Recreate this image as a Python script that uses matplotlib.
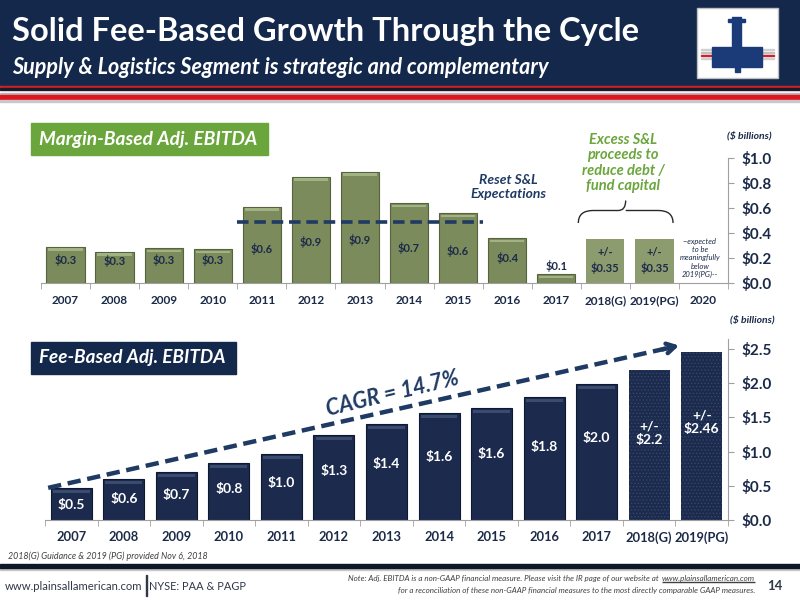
import numpy as np
import matplotlib.pyplot as plt
from matplotlib.patches import Rectangle, PathPatch
from matplotlib.path import Path

plt.rcParams['font.family'] = ['Lato', 'DejaVu Sans']
plt.rcParams['hatch.linewidth'] = 0.6

# margin-based adj. ebitda ($ billions)
margin_years = ['2007', '2008', '2009', '2010', '2011', '2012', '2013', '2014',
                '2015', '2016', '2017', '2018(G)', '2019(PG)', '2020']
margin_vals = [0.29, 0.25, 0.28, 0.27, 0.61, 0.85, 0.89, 0.64, 0.56, 0.36, 0.07, 0.35, 0.35, 0.0]
margin_labels = ['$0.3', '$0.3', '$0.3', '$0.3', '$0.6', '$0.9', '$0.9', '$0.7',
                 '$0.6', '$0.4', '$0.1', '+/-\n$0.35', '+/-\n$0.35', '']

# fee-based adj. ebitda ($ billions)
fee_years = ['2007', '2008', '2009', '2010', '2011', '2012', '2013', '2014',
             '2015', '2016', '2017', '2018(G)', '2019(PG)']
fee_vals = [0.47, 0.60, 0.70, 0.83, 0.96, 1.24, 1.40, 1.56, 1.64, 1.80, 1.99, 2.19, 2.46]
fee_labels = ['$0.5', '$0.6', '$0.7', '$0.8', '$1.0', '$1.3', '$1.4', '$1.6',
              '$1.6', '$1.8', '$2.0', '+/-\n$2.2', '+/-\n$2.46']

margin_ticks = [0.0, 0.2, 0.4, 0.6, 0.8, 1.0]
fee_ticks = [0.0, 0.5, 1.0, 1.5, 2.0, 2.5]

NAVY = '#13284a'
BAR_NAVY = '#1c2b4d'
GREEN_BOX = '#6aa63c'
OLIVE = '#7b8b5c'
TXT = '#1b2a48'

W, H = 800, 600


def px(x, y):
    return x / W, 1 - y / H


fig = plt.figure(figsize=(8, 6), dpi=100)
fig.patch.set_facecolor('white')

# header band and stripes
fig.patches.append(Rectangle((0, 1 - 85 / H), 1, 85 / H, transform=fig.transFigure,
                             color=NAVY, zorder=0))
for y0, h, c in [(86, 1.2, '#d0202a'), (87.5, 2.5, '#1a1a2a'), (92.5, 2, '#b8b8b8'),
                 (95.5, 3.5, '#e0161e'), (99.5, 2, '#c8c8c8')]:
    fig.patches.append(Rectangle((0, 1 - (y0 + h) / H), 1, h / H,
                                 transform=fig.transFigure, color=c, zorder=0))

# logo box
fig.patches.append(Rectangle(px(697, 78), 81 / W, 70 / H, transform=fig.transFigure,
                             facecolor='white', edgecolor='#c0c0c0', lw=1, zorder=1))
for yy, c in [(50, '#d0d0d0'), (53, '#c0c0c0'), (56, '#d0202a'), (59, '#d0d0d0')]:
    fig.patches.append(Rectangle(px(701, yy), 73 / W, 1.5 / H, transform=fig.transFigure,
                                 color=c, zorder=2))
fig.patches.append(Rectangle(px(712, 67), 50 / W, 20 / H, transform=fig.transFigure,
                             color='#1b3a78', zorder=3))
fig.patches.append(Rectangle(px(732, 47), 9 / W, 30 / H, transform=fig.transFigure,
                             color='#1b3a78', zorder=3))
fig.patches.append(Rectangle(px(728, 22), 17 / W, 3 / H, transform=fig.transFigure,
                             color='#1b3a78', zorder=3))
fig.patches.append(Rectangle(px(735, 72), 5 / W, 5 / H, transform=fig.transFigure,
                             color='#1b3a78', zorder=3))

fig.text(*px(12, 31), 'Solid Fee-Based Growth Through the Cycle', color='white',
         fontsize=23.5, fontweight='bold', va='center', ha='left')
fig.text(*px(12, 67), 'Supply & Logistics Segment is strategic and complementary',
         color='white', fontsize=15.5, fontweight='bold', style='italic',
         va='center', ha='left')

# ---------- top chart ----------
ax1 = fig.add_axes([41 / W, 1 - 283 / H, 687 / W, 125 / H])
x1 = np.arange(len(margin_years))
for i, (v, lab) in enumerate(zip(margin_vals, margin_labels)):
    if v <= 0:
        continue
    if i >= 11:
        ax1.bar(i, v, width=0.78, color='#8d9c6e', edgecolor='none', zorder=2)
    else:
        ax1.bar(i, v, width=0.78, color=OLIVE, edgecolor='#55643c', lw=0.8, zorder=2)
        ax1.bar(i, 0.018, bottom=v - 0.03, width=0.7, color='#a3b282',
                edgecolor='none', zorder=3)
    if i == 10:
        ax1.text(i, v + 0.07, lab, ha='center', va='center', fontsize=8,
                 fontweight='bold', color=TXT, zorder=4)
    elif i >= 11:
        ax1.text(i, 0.18, lab, ha='center', va='center', fontsize=8,
                 fontweight='bold', color=TXT, zorder=4, linespacing=1.3)
    else:
        ax1.text(i, 0.11 + 0.26 * v, lab, ha='center', va='center', fontsize=8,
                 fontweight='bold', color=TXT, zorder=4)

ax1.plot([3.5, 8.5], [0.49, 0.49], color='#1f3a63', lw=2.6, dashes=(3.2, 1.6), zorder=5)

# brace over guidance years
bx0, bx1, by0, by1 = 10.45, 12.38, 0.48, 0.66
bm = (bx0 + bx1) / 2
verts = [(bx0, by0), (bx0, by0 + 0.1), (bx0 + 0.3, by0 + 0.1), (bm - 0.15, by0 + 0.1),
         (bm, by0 + 0.1), (bm, by1), (bm, by0 + 0.1), (bm + 0.15, by0 + 0.1),
         (bx1 - 0.3, by0 + 0.1), (bx1, by0 + 0.1), (bx1, by0)]
codes = [Path.MOVETO, Path.CURVE3, Path.CURVE3, Path.LINETO, Path.CURVE3, Path.CURVE3,
         Path.MOVETO, Path.CURVE3, Path.LINETO, Path.CURVE3, Path.CURVE3]
ax1.add_patch(PathPatch(Path(verts, codes), facecolor='none', edgecolor='#2a2a2a', lw=1))

ax1.set_xlim(-0.5, len(margin_years) - 0.5)
ax1.set_ylim(0, 1.0)
ax1.set_xticks(x1)
ax1.set_xticklabels(margin_years)
ax1.set_xticks(np.arange(-0.5, len(margin_years)), minor=True)
ax1.tick_params(axis='x', which='major', length=0, pad=9, labelsize=8.5, labelcolor=TXT)
ax1.tick_params(axis='x', which='minor', length=4, color='#a0a0a0', direction='out')
for t in ax1.get_xticklabels():
    t.set_fontweight('bold')
ax1.yaxis.tick_right()
ax1.set_yticks(margin_ticks)
ax1.set_yticklabels(['${:.1f}'.format(t) for t in margin_ticks])
ax1.tick_params(axis='y', length=4, color='#a0a0a0', labelsize=11, labelcolor=TXT, pad=6)
for t in ax1.get_yticklabels():
    t.set_fontweight('bold')
for s in ['top', 'left']:
    ax1.spines[s].set_visible(False)
for s in ['right', 'bottom']:
    ax1.spines[s].set_color('#a0a0a0')
ax1.patch.set_alpha(0)

# top chart annotations
fig.patches.append(Rectangle(px(31, 155), 237 / W, 32 / H, transform=fig.transFigure,
                             color=GREEN_BOX, zorder=1))
fig.text(*px(39, 139), 'Margin-Based Adj. EBITDA', color='white', fontsize=13.8,
         fontweight='bold', style='italic', va='center', ha='left')
fig.text(*px(508, 187), 'Reset S&L\nExpectations', color='#1f3a63', fontsize=10,
         fontweight='bold', style='italic', va='center', ha='center', linespacing=1.15)
fig.text(*px(623, 163), 'Excess S&L\nproceeds to\nreduce debt /\nfund capital',
         color='#6aa63c', fontsize=10.5, fontweight='bold', style='italic',
         va='center', ha='center', linespacing=1.1)
fig.text(*px(700, 258), '--expected\nto be\nmeaningfully\nbelow\n2019(PG)--', color=TXT,
         fontsize=5.5, style='italic', va='center', ha='center', linespacing=1.2)
fig.text(*px(749, 136), '($ billions)', color=TXT, fontsize=7.5, fontweight='bold',
         style='italic', va='center', ha='center')

# ---------- bottom chart ----------
ax2 = fig.add_axes([45 / W, 1 - 520 / H, 683 / W, 2.65 * 68.4 / H])
x2 = np.arange(len(fee_years))
for i, (v, lab) in enumerate(zip(fee_vals, fee_labels)):
    if i >= 11:
        ax2.bar(i, v, width=0.78, color=BAR_NAVY, edgecolor='#34466c', hatch='.....',
                lw=0, zorder=2)
        ax2.text(i, v * 0.58, lab, ha='center', va='center', fontsize=10,
                 fontweight='bold', color='white', zorder=4, linespacing=1.2)
    else:
        ax2.bar(i, v, width=0.78, color=BAR_NAVY, edgecolor='#0e1830', lw=0.8, zorder=2)
        ax2.bar(i, 0.04, bottom=v - 0.07, width=0.7, color='#3a4b70',
                edgecolor='none', zorder=3)
        ax2.text(i, 0.64 * v - 0.08, lab, ha='center', va='center', fontsize=10,
                 fontweight='bold', color='white', zorder=4)

# CAGR trend arrow
ax2.plot([-0.44, 11.45], [0.47, 2.53], color='#1f3a63', lw=3.2, dashes=(3.0, 1.5),
         zorder=5, solid_capstyle='butt')
ax2.annotate('', xy=(11.62, 2.56), xytext=(11.2, 2.485),
             arrowprops=dict(arrowstyle='->,head_length=0.6,head_width=0.35',
                             color='#1f3a63', lw=3.2), zorder=6)

ax2.set_xlim(-0.5, len(fee_years) - 0.5)
ax2.set_ylim(0, 2.65)
ax2.set_xticks(x2)
ax2.set_xticklabels(fee_years)
ax2.set_xticks(np.arange(-0.5, len(fee_years)), minor=True)
ax2.tick_params(axis='x', which='major', length=0, pad=8, labelsize=9.3, labelcolor=TXT)
ax2.tick_params(axis='x', which='minor', length=4, color='#a0a0a0', direction='out')
for t in ax2.get_xticklabels():
    t.set_fontweight('bold')
ax2.yaxis.tick_right()
ax2.set_yticks(fee_ticks)
ax2.set_yticklabels(['${:.1f}'.format(t) for t in fee_ticks])
ax2.tick_params(axis='y', length=4, color='#a0a0a0', labelsize=11, labelcolor=TXT, pad=6)
for t in ax2.get_yticklabels():
    t.set_fontweight('bold')
for s in ['top', 'left']:
    ax2.spines[s].set_visible(False)
for s in ['right', 'bottom']:
    ax2.spines[s].set_color('#a0a0a0')
ax2.patch.set_alpha(0)

fig.patches.append(Rectangle(px(31, 374), 205 / W, 32 / H, transform=fig.transFigure,
                             color=NAVY, zorder=1))
fig.text(*px(39, 358), 'Fee-Based Adj. EBITDA', color='white', fontsize=13.6,
         fontweight='bold', style='italic', va='center', ha='left')
fig.text(*px(393, 394), 'CAGR = 14.7%', color='#1f3a63', fontsize=15.5,
         fontweight='bold', style='italic', va='center', ha='center', rotation=13.5)
fig.text(*px(752, 320), '($ billions)', color=TXT, fontsize=7.5, fontweight='bold',
         style='italic', va='center', ha='center')

# footer
fig.text(*px(8, 556), '2018(G) Guidance & 2019 (PG) provided Nov 6, 2018', color='#404040',
         fontsize=6.4, style='italic', va='center', ha='left')
fig.patches.append(Rectangle(px(0, 570), 1, 3 / H, transform=fig.transFigure,
                             color='#c8c8c8', zorder=0))
fig.patches.append(Rectangle(px(0, 568), 1, 4 / H, transform=fig.transFigure,
                             color='#101828', zorder=1))
fig.text(*px(5, 586), 'www.plainsallamerican.com', color='#303848', fontsize=8.1,
         va='center', ha='left')
fig.patches.append(Rectangle(px(146, 596), 1 / W, 21 / H, transform=fig.transFigure,
                             color='#303848', zorder=1))
fig.text(*px(149, 586), 'NYSE: PAA & PAGP', color='#303848', fontsize=7.9,
         va='center', ha='left')

# note line 1: place the underlined url first, then the text before it
url = fig.text(*px(755, 578), 'www.plainsallamerican.com', color='#404040', fontsize=5.8,
               style='italic', va='center', ha='right')
fig.canvas.draw()
bb = url.get_window_extent()
fig.patches.append(Rectangle((bb.x0 / W, bb.y0 / H - 0.6 / H), (bb.x1 - bb.x0) / W, 0.6 / H,
                             transform=fig.transFigure, color='#404040', zorder=1))
fig.text((bb.x0 - 3) / W, 1 - 578 / H, 'Note: Adj. EBITDA is a non-GAAP financial measure. '
         'Please visit the IR page of our website at', color='#404040', fontsize=5.8,
         style='italic', va='center', ha='right')
fig.text(*px(755, 590), 'for a reconciliation of these non-GAAP financial measures to the most '
         'directly comparable GAAP measures.', color='#404040', fontsize=5.8,
         style='italic', va='center', ha='right')
fig.text(*px(775, 586), '14', color='#303848', fontsize=9.5, fontweight='bold',
         va='center', ha='center')

fig.savefig('out.png', dpi=100)
